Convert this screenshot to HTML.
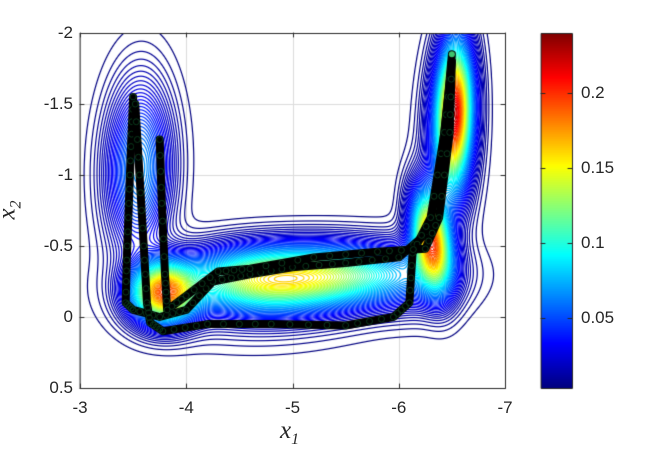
<!DOCTYPE html>
<html><head><meta charset="utf-8">
<style>
body{margin:0;background:#fff;width:651px;height:450px;overflow:hidden;position:relative;font-family:"Liberation Sans",sans-serif}
.t{position:absolute;font-size:17px;color:#262626;white-space:nowrap}
</style></head><body>
<div class="t" style="left:0;width:586px;text-align:center;top:6px;font-family:'Liberation Serif',serif;font-size:17px;color:#000">Physically-Consistent Gaussian Mixture Model</div>
<canvas id="cv" width="651" height="450" style="position:absolute;left:0;top:0"></canvas>
<div id="lab"></div>
<div class="t" style="left:280px;top:417px;font-family:'Liberation Serif',serif;font-style:italic;font-size:25px">x<sub style="font-size:16px">1</sub></div>
<div class="t" style="left:0px;top:194px;font-family:'Liberation Serif',serif;font-style:italic;font-size:25px;transform:rotate(-90deg)">x<sub style="font-size:16px">2</sub></div>
<script>
// GMM components
const compMeanX=[-3.55,-3.78,-4.7,-5.5,-6.3,-6.52,-4.6,-6.47,-6.2];
const compMeanY=[-1.05,-0.17,-0.27,-0.3,-0.55,-1.45,-0.12,-1.25,-0.3];
const compSx=[0.2,0.2,0.5,0.5,0.12,0.11,0.7,0.16,0.25];
const compSy=[0.39,0.14,0.15,0.15,0.22,0.32,0.2,0.45,0.18];
const compRho=[0.05,0,0,0,-0.3,0.1,0,0.1,0];
const compAmp=[0.07,0.17,0.12,0.09,0.18,0.19,0.015,0.04,0.02];
// trajectories
const traj1=[[-3.5,-1.55],[-3.48,-1.2],[-3.46,-0.8],[-3.44,-0.4],[-3.43,-0.1],[-3.5,-0.05],[-3.75,0.0],[-4.0,-0.05],[-4.25,-0.25],[-4.6,-0.3],[-5.0,-0.35],[-5.5,-0.38],[-6.0,-0.42],[-6.28,-0.6],[-6.4,-1.1],[-6.47,-1.6],[-6.5,-1.85]];
const traj2=[[-3.52,-1.5],[-3.56,-1.0],[-3.6,-0.5],[-3.63,-0.1],[-3.66,0.04],[-3.78,0.1],[-4.2,0.05],[-4.8,0.05],[-5.5,0.06],[-5.95,0.0],[-6.1,-0.1],[-6.13,-0.45],[-6.3,-0.7],[-6.43,-1.3],[-6.5,-1.8]];
const traj3=[[-3.75,-1.25],[-3.77,-0.8],[-3.8,-0.3],[-3.82,-0.05],[-4.0,-0.15],[-4.3,-0.32],[-4.6,-0.34],[-5.2,-0.42],[-5.8,-0.46],[-6.25,-0.48],[-6.38,-0.7],[-6.48,-1.3],[-6.5,-1.8]];
const xTicks=[-3,-4,-5,-6,-7];
const yTicks=[-2,-1.5,-1,-0.5,0,0.5];
const cbTicks=[0.05,0.1,0.15,0.2];
const L=80,R=505,T=33,B=388,VMIN=0.0033,VMAX=0.24;
const sx=v=>L+(-3-v)/4*(R-L), sy=v=>T+(v+2)/2.5*(B-T);
const ix=p=>-3-(p-L)/(R-L)*4, iy=p=>-2+(p-T)/(B-T)*2.5;
function dens(x,y){let s=0;for(let i=0;i<compAmp.length;i++){const dx=(x-compMeanX[i])/compSx[i],dy=(y-compMeanY[i])/compSy[i],r=compRho[i];const q=(dx*dx-2*r*dx*dy+dy*dy)/(1-r*r);s+=compAmp[i]*Math.exp(-0.5*q);}return s;}
function jet(t){t=Math.max(0,Math.min(1,t));const f=v=>Math.max(0,Math.min(1,1.5-Math.abs(v)));return [f(4*t-3)*255,f(4*t-2)*255,f(4*t-1)*255];}
const c=document.getElementById('cv'),g=c.getContext('2d');
g.fillStyle='#fff';g.fillRect(0,0,651,450);
g.strokeStyle='#dcdcdc';g.lineWidth=1;
xTicks.forEach(v=>{g.beginPath();g.moveTo(Math.round(sx(v))+.5,T);g.lineTo(Math.round(sx(v))+.5,B);g.stroke();});
yTicks.forEach(v=>{g.beginPath();g.moveTo(L,Math.round(sy(v))+.5);g.lineTo(R,Math.round(sy(v))+.5);g.stroke();});
const W=R-L,H=B-T,img=g.getImageData(L,T,W,H),d=img.data,step=0.0025;
const D=[];for(let j=0;j<=H+1;j++){D[j]=new Float32Array(W+2);for(let i=0;i<=W+1;i++)D[j][i]=dens(ix(L+i-0.5),iy(T+j-0.5));}
for(let j=0;j<H;j++)for(let i=0;i<W;i++){
 const v=(D[j][i]+D[j+1][i]+D[j][i+1]+D[j+1][i+1])/4;
 const gx=(D[j][i+1]+D[j+1][i+1]-D[j][i]-D[j+1][i])/2,gy=(D[j+1][i]+D[j+1][i+1]-D[j][i]-D[j][i+1])/2;
 const gm=Math.hypot(gx,gy)+1e-9;const t=v/step,k=Math.round(t);if(k<1)continue;
 const dist=Math.abs(t-k)*step/gm;let a=Math.max(0,Math.min(1,1.1-dist));if(a<=0)continue;
 const col=jet((k*step-VMIN)/(VMAX-VMIN));const o=(j*W+i)*4;
 for(let q=0;q<3;q++)d[o+q]=d[o+q]*(1-a)+col[q]*a;}
g.putImageData(img,L,T);
[traj1,traj2,traj3].forEach(tr=>{g.strokeStyle='#000';g.lineWidth=8;g.lineJoin='round';g.lineCap='round';g.beginPath();tr.forEach((p,i)=>i?g.lineTo(sx(p[0]),sy(p[1])):g.moveTo(sx(p[0]),sy(p[1])));g.stroke();
 g.strokeStyle='#0b3a1c';g.lineWidth=1;for(let i=1;i<tr.length;i++){const a=tr[i-1],b=tr[i];for(let s=0;s<1;s+=0.25){const x=sx(a[0]+(b[0]-a[0])*s),y=sy(a[1]+(b[1]-a[1])*s);g.beginPath();g.arc(x,y,3,0,7);g.stroke();}}});
g.fillStyle='#3ec46d';g.beginPath();g.arc(sx(-6.5),sy(-1.85),3,0,7);g.fill();
g.strokeStyle='#262626';g.lineWidth=1;g.strokeRect(L+.5,T+.5,W,H);
xTicks.forEach(v=>{const x=Math.round(sx(v))+.5;g.beginPath();g.moveTo(x,B);g.lineTo(x,B-4);g.moveTo(x,T);g.lineTo(x,T+4);g.stroke();});
yTicks.forEach(v=>{const y=Math.round(sy(v))+.5;g.beginPath();g.moveTo(L,y);g.lineTo(L+4,y);g.moveTo(R,y);g.lineTo(R-4,y);g.stroke();});
const CL=541,CW=31,cy=v=>B-(v-VMIN)/(VMAX-VMIN)*(B-T);
for(let y=T;y<B;y++){const col=jet((B-y-0.5)/(B-T));g.fillStyle=`rgb(${col[0]|0},${col[1]|0},${col[2]|0})`;g.fillRect(CL,y,CW,1);}
g.strokeRect(CL+.5,T+.5,CW,H);
cbTicks.forEach(v=>{const y=Math.round(cy(v))+.5;g.beginPath();g.moveTo(CL,y);g.lineTo(CL+4,y);g.moveTo(CL+CW,y);g.lineTo(CL+CW-4,y);g.stroke();});
const lab=document.getElementById('lab');
function addL(txt,x,y,al,name){const e=document.createElement('div');e.className='t';e.textContent=txt;e.style.top=(y-10)+'px';
 if(al==='c'){e.style.left=(x-30)+'px';e.style.width='60px';e.style.textAlign='center';}else if(al==='r'){e.style.left=(x-60)+'px';e.style.width='60px';e.style.textAlign='right';}else e.style.left=x+'px';
 
 
 lab.appendChild(e);}
xTicks.forEach(v=>addL(String(v),sx(v),408,'c','x-tick-label'));
yTicks.forEach(v=>addL(String(v),73,sy(v),'r','y-tick-label'));
cbTicks.forEach(v=>addL(String(v),581,cy(v),'l','colorbar-tick-label'));
</script>
</body></html>
